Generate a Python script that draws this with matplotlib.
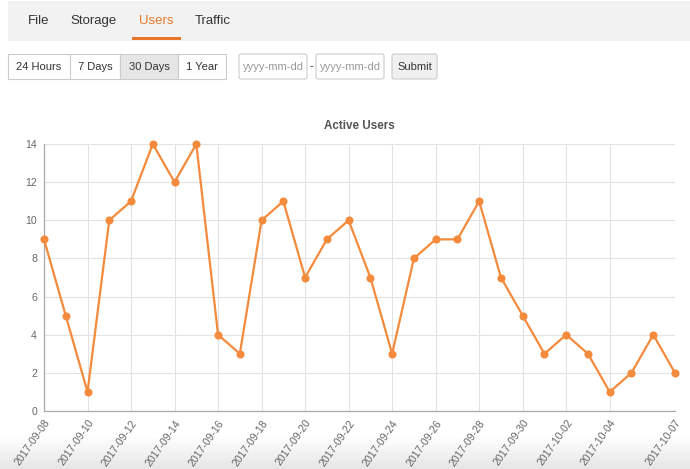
import matplotlib
matplotlib.use("Agg")
import matplotlib.pyplot as plt
import numpy as np
from matplotlib.patches import Rectangle, FancyBboxPatch

plt.rcParams["font.family"] = ["Liberation Sans", "DejaVu Sans"]

DATES = [
    "2017-09-08", "2017-09-09", "2017-09-10", "2017-09-11", "2017-09-12",
    "2017-09-13", "2017-09-14", "2017-09-15", "2017-09-16", "2017-09-17",
    "2017-09-18", "2017-09-19", "2017-09-20", "2017-09-21", "2017-09-22",
    "2017-09-23", "2017-09-24", "2017-09-25", "2017-09-26", "2017-09-27",
    "2017-09-28", "2017-09-29", "2017-09-30", "2017-10-01", "2017-10-02",
    "2017-10-03", "2017-10-04", "2017-10-05", "2017-10-06", "2017-10-07",
]
USERS = [9, 5, 1, 10, 11, 14, 12, 14, 4, 3,
         10, 11, 7, 9, 10, 7, 3, 8, 9, 9,
         11, 7, 5, 3, 4, 3, 1, 2, 4, 2]
TICK_DATES = [
    "2017-09-08", "2017-09-10", "2017-09-12", "2017-09-14", "2017-09-16",
    "2017-09-18", "2017-09-20", "2017-09-22", "2017-09-24", "2017-09-26",
    "2017-09-28", "2017-09-30", "2017-10-02", "2017-10-04", "2017-10-07",
]
Y_TICKS = [0, 2, 4, 6, 8, 10, 12, 14]

TABS = ["File", "Storage", "Users", "Traffic"]
RANGES = ["24 Hours", "7 Days", "30 Days", "1 Year"]

ORANGE = "#f48a3b"
TAB_ORANGE = "#e8772a"

W, H = 690, 469
fig = plt.figure(figsize=(W / 100, H / 100), dpi=100)

# page layer, pixel coordinates
ui = fig.add_axes([0, 0, 1, 1], zorder=0)
ui.axis("off")

# bottom shadow gradient
grad = np.linspace(0, 1, 50).reshape(-1, 1)
ui.imshow(grad, extent=(0, W, H, 436), cmap=matplotlib.colors.LinearSegmentedColormap.from_list(
    "g", ["#ffffff", "#e6e6e6"]), aspect="auto", zorder=0)
ui.set_xlim(0, W)
ui.set_ylim(H, 0)

# tab bar
ui.add_patch(Rectangle((8, 1), W - 8, 40, facecolor="#f2f2f2", edgecolor="none"))
tab_x = [39, 94, 156, 213]
for name, x in zip(TABS, tab_x):
    ui.text(x, 21, name, ha="center", va="center", fontsize=9.5,
            color=TAB_ORANGE if name == "Users" else "#333333")
ui.add_patch(Rectangle((132, 37.5), 49, 3, facecolor=TAB_ORANGE, edgecolor="none"))

# range buttons
edges = [8, 70, 120, 178, 226]
for i, name in enumerate(RANGES):
    fc = "#e6e6e6" if name == "30 Days" else "white"
    ui.add_patch(Rectangle((edges[i], 54), edges[i + 1] - edges[i], 25,
                           facecolor=fc, edgecolor="#cccccc", lw=0.8))
    ui.text((edges[i] + edges[i + 1]) / 2, 66.5, name, ha="center", va="center",
            fontsize=8, color="#333333")

# date inputs
for x0, x1 in [(239, 307), (316, 384)]:
    ui.add_patch(FancyBboxPatch((x0, 54), x1 - x0, 25, boxstyle="round,pad=0,rounding_size=2",
                                facecolor="white", edgecolor="#cccccc", lw=0.8))
    ui.text((x0 + x1) / 2, 66.5, "yyyy-mm-dd", ha="center", va="center",
            fontsize=8, color="#999999")
ui.text(311.5, 66, "-", ha="center", va="center", fontsize=8, color="#333333")

ui.add_patch(FancyBboxPatch((392, 54), 45, 25, boxstyle="round,pad=0,rounding_size=2",
                            facecolor="#f0f0f0", edgecolor="#cccccc", lw=0.8))
ui.text(414.5, 66.5, "Submit", ha="center", va="center", fontsize=8, color="#333333")

# chart
x0, x1, ytop, ybot = 44, 675, 144, 411
ax = fig.add_axes([x0 / W, 1 - ybot / H, (x1 - x0) / W, (ybot - ytop) / H], zorder=1)
ax.patch.set_alpha(0)
idx = list(range(len(DATES)))
ax.plot(idx, USERS, color=ORANGE, lw=1.6, marker="o", ms=4.8, clip_on=False, zorder=3)
ax.set_xlim(0, len(DATES) - 1)
ax.set_ylim(0, 14)
ax.set_yticks(Y_TICKS)
ax.set_xticks([DATES.index(d) for d in TICK_DATES])
ax.set_xticklabels(TICK_DATES, rotation=55, ha="right", va="top", rotation_mode="anchor")
ax.tick_params(length=0, labelsize=7.6, colors="#666666", pad=5)
ax.grid(True, color="#e3e3e3", lw=0.8)
ax.set_axisbelow(True)
for s in ["top", "right"]:
    ax.spines[s].set_visible(False)
for s in ["left", "bottom"]:
    ax.spines[s].set_color("#aaaaaa")
    ax.spines[s].set_linewidth(0.9)
ax.set_title("Active Users", fontsize=8.4, fontweight="bold", color="#555555", pad=11)

fig.savefig("out.png", dpi=100)
